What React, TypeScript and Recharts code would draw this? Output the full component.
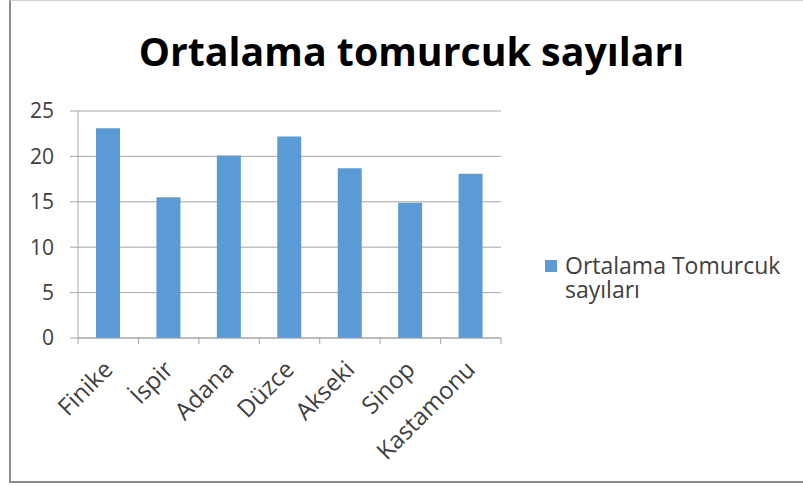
import React from "react";
import { Bar, BarChart, CartesianGrid, XAxis, YAxis } from "recharts";

const cities = ["Finike", "İspir", "Adana", "Düzce", "Akseki", "Sinop", "Kastamonu"];
const budCounts = [23.1, 15.5, 20.1, 22.2, 18.7, 14.9, 18.1];
const yTicks = [0, 5, 10, 15, 20, 25];

const seriesName = "Ortalama Tomurcuk sayıları";
const chartTitle = "Ortalama tomurcuk sayıları";

const W = 803;
const H = 486;
const xAxisHeight = 30;
const margin = { top: 111, right: 302, bottom: 148 - xAxisHeight, left: 8 };
const yAxisWidth = 70;
const plotWidth = W - margin.left - margin.right - yAxisWidth;
const band = plotWidth / cities.length;

const data = cities.map((name, i) => ({ name, value: budCounts[i] }));

const font = '"Open Sans", sans-serif';

// excel style: tick marks sit between categories, labels rotated
const XTick = (props: any) => {
  const { x, y, payload, index } = props;
  const half = band / 2;
  const isLast = index === cities.length - 1;
  const ax = x + 6;
  const ay = y + 27;
  return (
    <g>
      <line x1={x - half} x2={x - half} y1={y - 6} y2={y} stroke="#a6a6a6" />
      {isLast && <line x1={x + half} x2={x + half} y1={y - 6} y2={y} stroke="#a6a6a6" />}
      <text
        x={ax}
        y={ay}
        textAnchor="end"
        transform={`rotate(-45 ${ax} ${ay})`}
        fontFamily={font}
        fontSize={24}
        fill="#404040"
      >
        {payload.value}
      </text>
    </g>
  );
};

export default function App() {
  return (
    <div style={{ position: "absolute", left: 0, top: 0, width: W, height: H, background: "#fff" }}>
      <div
        style={{
          position: "absolute",
          left: 9,
          top: 0,
          width: W,
          height: 480,
          borderLeft: "2px solid #8c8c8c",
          borderBottom: "2px solid #8c8c8c",
          borderTop: "1px solid #d0d0d0",
        }}
      />
      <div
        style={{
          position: "absolute",
          left: 0,
          width: 823,
          top: 24,
          textAlign: "center",
          fontFamily: font,
          fontWeight: 700,
          fontSize: 39.3,
          color: "#000",
          whiteSpace: "nowrap",
        }}
      >
        {chartTitle}
      </div>
      <div
        style={{
          position: "absolute",
          left: 545,
          top: 253,
          display: "flex",
          alignItems: "flex-start",
          fontFamily: font,
        }}
      >
        <div style={{ width: 12, height: 12, background: "#5b9bd5", marginTop: 7, marginRight: 8 }} />
        <div style={{ fontSize: 23, lineHeight: "24px", color: "#404040", whiteSpace: "nowrap" }}>
          Ortalama Tomurcuk
          <br />
          sayıları
        </div>
      </div>
      <BarChart width={W} height={H} data={data} margin={margin} barSize={24}>
        <CartesianGrid horizontal vertical={false} stroke="#a6a6a6" />
        <XAxis
          dataKey="name"
          interval={0}
          height={xAxisHeight}
          tickLine={false}
          tickSize={6}
          tickMargin={0}
          axisLine={{ stroke: "#a6a6a6" }}
          tick={<XTick />}
        />
        <YAxis
          width={yAxisWidth}
          domain={[0, 25]}
          ticks={yTicks}
          interval={0}
          tickSize={8}
          tickMargin={16}
          axisLine={{ stroke: "#a6a6a6" }}
          tickLine={{ stroke: "#a6a6a6" }}
          tick={{ fontFamily: font, fontSize: 21, fill: "#404040" }}
        />
        <Bar dataKey="value" name={seriesName} fill="#5b9bd5" isAnimationActive={false} />
      </BarChart>
    </div>
  );
}
